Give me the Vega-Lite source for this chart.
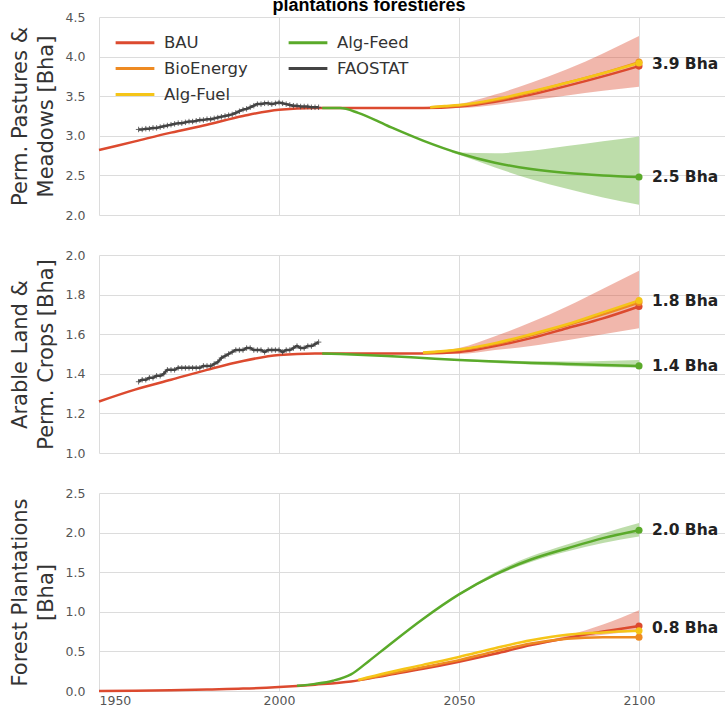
{
  "$schema": "https://vega.github.io/schema/vega-lite/v6.json",
  "padding": {"left": 9, "top": -3, "right": 0, "bottom": 0},
  "background": "white",
  "title": {"text": "plantations forestières", "font": "Liberation Sans", "fontSize": 18, "fontWeight": "bold", "color": "#000", "anchor": "middle", "offset": -4},
  "datasets": {
    "lines": [
      {"panel": 1, "scenario": "BAU", "year": 1950, "value": 2.82},
      {"panel": 1, "scenario": "BAU", "year": 1960, "value": 2.93},
      {"panel": 1, "scenario": "BAU", "year": 1970, "value": 3.04},
      {"panel": 1, "scenario": "BAU", "year": 1980, "value": 3.14},
      {"panel": 1, "scenario": "BAU", "year": 1990, "value": 3.25},
      {"panel": 1, "scenario": "BAU", "year": 2000, "value": 3.33},
      {"panel": 1, "scenario": "BAU", "year": 2010, "value": 3.35},
      {"panel": 1, "scenario": "BAU", "year": 2020, "value": 3.35},
      {"panel": 1, "scenario": "BAU", "year": 2030, "value": 3.35},
      {"panel": 1, "scenario": "BAU", "year": 2040, "value": 3.35},
      {"panel": 1, "scenario": "BAU", "year": 2050, "value": 3.37},
      {"panel": 1, "scenario": "BAU", "year": 2060, "value": 3.43},
      {"panel": 1, "scenario": "BAU", "year": 2070, "value": 3.52},
      {"panel": 1, "scenario": "BAU", "year": 2080, "value": 3.63},
      {"panel": 1, "scenario": "BAU", "year": 2090, "value": 3.75},
      {"panel": 1, "scenario": "BAU", "year": 2100, "value": 3.88},
      {"panel": 1, "scenario": "BioEnergy", "year": 2042, "value": 3.36},
      {"panel": 1, "scenario": "BioEnergy", "year": 2046, "value": 3.37},
      {"panel": 1, "scenario": "BioEnergy", "year": 2050, "value": 3.38},
      {"panel": 1, "scenario": "BioEnergy", "year": 2060, "value": 3.45},
      {"panel": 1, "scenario": "BioEnergy", "year": 2070, "value": 3.55},
      {"panel": 1, "scenario": "BioEnergy", "year": 2080, "value": 3.67},
      {"panel": 1, "scenario": "BioEnergy", "year": 2090, "value": 3.79},
      {"panel": 1, "scenario": "BioEnergy", "year": 2100, "value": 3.93},
      {"panel": 1, "scenario": "Alg-Fuel", "year": 2042, "value": 3.36},
      {"panel": 1, "scenario": "Alg-Fuel", "year": 2046, "value": 3.375},
      {"panel": 1, "scenario": "Alg-Fuel", "year": 2050, "value": 3.39},
      {"panel": 1, "scenario": "Alg-Fuel", "year": 2060, "value": 3.46},
      {"panel": 1, "scenario": "Alg-Fuel", "year": 2070, "value": 3.56},
      {"panel": 1, "scenario": "Alg-Fuel", "year": 2080, "value": 3.67},
      {"panel": 1, "scenario": "Alg-Fuel", "year": 2090, "value": 3.79},
      {"panel": 1, "scenario": "Alg-Fuel", "year": 2100, "value": 3.92},
      {"panel": 1, "scenario": "Alg-Feed", "year": 2012, "value": 3.35},
      {"panel": 1, "scenario": "Alg-Feed", "year": 2017, "value": 3.35},
      {"panel": 1, "scenario": "Alg-Feed", "year": 2022, "value": 3.29},
      {"panel": 1, "scenario": "Alg-Feed", "year": 2030, "value": 3.13},
      {"panel": 1, "scenario": "Alg-Feed", "year": 2040, "value": 2.94},
      {"panel": 1, "scenario": "Alg-Feed", "year": 2050, "value": 2.78},
      {"panel": 1, "scenario": "Alg-Feed", "year": 2060, "value": 2.66},
      {"panel": 1, "scenario": "Alg-Feed", "year": 2070, "value": 2.58},
      {"panel": 1, "scenario": "Alg-Feed", "year": 2080, "value": 2.53},
      {"panel": 1, "scenario": "Alg-Feed", "year": 2090, "value": 2.50},
      {"panel": 1, "scenario": "Alg-Feed", "year": 2100, "value": 2.48},
      {"panel": 1, "scenario": "FAOSTAT", "year": 1961, "value": 3.08},
      {"panel": 1, "scenario": "FAOSTAT", "year": 1962, "value": 3.08},
      {"panel": 1, "scenario": "FAOSTAT", "year": 1963, "value": 3.09},
      {"panel": 1, "scenario": "FAOSTAT", "year": 1964, "value": 3.09},
      {"panel": 1, "scenario": "FAOSTAT", "year": 1965, "value": 3.10},
      {"panel": 1, "scenario": "FAOSTAT", "year": 1966, "value": 3.10},
      {"panel": 1, "scenario": "FAOSTAT", "year": 1967, "value": 3.11},
      {"panel": 1, "scenario": "FAOSTAT", "year": 1968, "value": 3.12},
      {"panel": 1, "scenario": "FAOSTAT", "year": 1969, "value": 3.13},
      {"panel": 1, "scenario": "FAOSTAT", "year": 1970, "value": 3.14},
      {"panel": 1, "scenario": "FAOSTAT", "year": 1971, "value": 3.15},
      {"panel": 1, "scenario": "FAOSTAT", "year": 1972, "value": 3.16},
      {"panel": 1, "scenario": "FAOSTAT", "year": 1973, "value": 3.16},
      {"panel": 1, "scenario": "FAOSTAT", "year": 1974, "value": 3.17},
      {"panel": 1, "scenario": "FAOSTAT", "year": 1975, "value": 3.18},
      {"panel": 1, "scenario": "FAOSTAT", "year": 1976, "value": 3.18},
      {"panel": 1, "scenario": "FAOSTAT", "year": 1977, "value": 3.19},
      {"panel": 1, "scenario": "FAOSTAT", "year": 1978, "value": 3.20},
      {"panel": 1, "scenario": "FAOSTAT", "year": 1979, "value": 3.20},
      {"panel": 1, "scenario": "FAOSTAT", "year": 1980, "value": 3.21},
      {"panel": 1, "scenario": "FAOSTAT", "year": 1981, "value": 3.21},
      {"panel": 1, "scenario": "FAOSTAT", "year": 1982, "value": 3.22},
      {"panel": 1, "scenario": "FAOSTAT", "year": 1983, "value": 3.23},
      {"panel": 1, "scenario": "FAOSTAT", "year": 1984, "value": 3.24},
      {"panel": 1, "scenario": "FAOSTAT", "year": 1985, "value": 3.25},
      {"panel": 1, "scenario": "FAOSTAT", "year": 1986, "value": 3.26},
      {"panel": 1, "scenario": "FAOSTAT", "year": 1987, "value": 3.27},
      {"panel": 1, "scenario": "FAOSTAT", "year": 1988, "value": 3.29},
      {"panel": 1, "scenario": "FAOSTAT", "year": 1989, "value": 3.31},
      {"panel": 1, "scenario": "FAOSTAT", "year": 1990, "value": 3.33},
      {"panel": 1, "scenario": "FAOSTAT", "year": 1991, "value": 3.34},
      {"panel": 1, "scenario": "FAOSTAT", "year": 1992, "value": 3.36},
      {"panel": 1, "scenario": "FAOSTAT", "year": 1993, "value": 3.38},
      {"panel": 1, "scenario": "FAOSTAT", "year": 1994, "value": 3.40},
      {"panel": 1, "scenario": "FAOSTAT", "year": 1995, "value": 3.40},
      {"panel": 1, "scenario": "FAOSTAT", "year": 1996, "value": 3.41},
      {"panel": 1, "scenario": "FAOSTAT", "year": 1997, "value": 3.41},
      {"panel": 1, "scenario": "FAOSTAT", "year": 1998, "value": 3.40},
      {"panel": 1, "scenario": "FAOSTAT", "year": 1999, "value": 3.41},
      {"panel": 1, "scenario": "FAOSTAT", "year": 2000, "value": 3.42},
      {"panel": 1, "scenario": "FAOSTAT", "year": 2001, "value": 3.41},
      {"panel": 1, "scenario": "FAOSTAT", "year": 2002, "value": 3.40},
      {"panel": 1, "scenario": "FAOSTAT", "year": 2003, "value": 3.39},
      {"panel": 1, "scenario": "FAOSTAT", "year": 2004, "value": 3.38},
      {"panel": 1, "scenario": "FAOSTAT", "year": 2005, "value": 3.38},
      {"panel": 1, "scenario": "FAOSTAT", "year": 2006, "value": 3.37},
      {"panel": 1, "scenario": "FAOSTAT", "year": 2007, "value": 3.37},
      {"panel": 1, "scenario": "FAOSTAT", "year": 2008, "value": 3.37},
      {"panel": 1, "scenario": "FAOSTAT", "year": 2009, "value": 3.36},
      {"panel": 1, "scenario": "FAOSTAT", "year": 2010, "value": 3.36},
      {"panel": 1, "scenario": "FAOSTAT", "year": 2011, "value": 3.36},

      {"panel": 2, "scenario": "BAU", "year": 1950, "value": 1.26},
      {"panel": 2, "scenario": "BAU", "year": 1960, "value": 1.32},
      {"panel": 2, "scenario": "BAU", "year": 1970, "value": 1.37},
      {"panel": 2, "scenario": "BAU", "year": 1980, "value": 1.42},
      {"panel": 2, "scenario": "BAU", "year": 1990, "value": 1.465},
      {"panel": 2, "scenario": "BAU", "year": 2000, "value": 1.495},
      {"panel": 2, "scenario": "BAU", "year": 2010, "value": 1.503},
      {"panel": 2, "scenario": "BAU", "year": 2020, "value": 1.503},
      {"panel": 2, "scenario": "BAU", "year": 2030, "value": 1.502},
      {"panel": 2, "scenario": "BAU", "year": 2040, "value": 1.503},
      {"panel": 2, "scenario": "BAU", "year": 2050, "value": 1.51},
      {"panel": 2, "scenario": "BAU", "year": 2060, "value": 1.54},
      {"panel": 2, "scenario": "BAU", "year": 2070, "value": 1.58},
      {"panel": 2, "scenario": "BAU", "year": 2080, "value": 1.63},
      {"panel": 2, "scenario": "BAU", "year": 2090, "value": 1.68},
      {"panel": 2, "scenario": "BAU", "year": 2100, "value": 1.74},
      {"panel": 2, "scenario": "BioEnergy", "year": 2040, "value": 1.505},
      {"panel": 2, "scenario": "BioEnergy", "year": 2050, "value": 1.52},
      {"panel": 2, "scenario": "BioEnergy", "year": 2060, "value": 1.55},
      {"panel": 2, "scenario": "BioEnergy", "year": 2070, "value": 1.595},
      {"panel": 2, "scenario": "BioEnergy", "year": 2080, "value": 1.645},
      {"panel": 2, "scenario": "BioEnergy", "year": 2090, "value": 1.70},
      {"panel": 2, "scenario": "BioEnergy", "year": 2100, "value": 1.76},
      {"panel": 2, "scenario": "Alg-Fuel", "year": 2040, "value": 1.507},
      {"panel": 2, "scenario": "Alg-Fuel", "year": 2050, "value": 1.523},
      {"panel": 2, "scenario": "Alg-Fuel", "year": 2060, "value": 1.555},
      {"panel": 2, "scenario": "Alg-Fuel", "year": 2070, "value": 1.60},
      {"panel": 2, "scenario": "Alg-Fuel", "year": 2080, "value": 1.65},
      {"panel": 2, "scenario": "Alg-Fuel", "year": 2090, "value": 1.71},
      {"panel": 2, "scenario": "Alg-Fuel", "year": 2100, "value": 1.77},
      {"panel": 2, "scenario": "Alg-Feed", "year": 2012, "value": 1.503},
      {"panel": 2, "scenario": "Alg-Feed", "year": 2017, "value": 1.50},
      {"panel": 2, "scenario": "Alg-Feed", "year": 2030, "value": 1.49},
      {"panel": 2, "scenario": "Alg-Feed", "year": 2040, "value": 1.48},
      {"panel": 2, "scenario": "Alg-Feed", "year": 2050, "value": 1.47},
      {"panel": 2, "scenario": "Alg-Feed", "year": 2060, "value": 1.462},
      {"panel": 2, "scenario": "Alg-Feed", "year": 2070, "value": 1.455},
      {"panel": 2, "scenario": "Alg-Feed", "year": 2080, "value": 1.45},
      {"panel": 2, "scenario": "Alg-Feed", "year": 2090, "value": 1.445},
      {"panel": 2, "scenario": "Alg-Feed", "year": 2100, "value": 1.44},
      {"panel": 2, "scenario": "FAOSTAT", "year": 1961, "value": 1.36},
      {"panel": 2, "scenario": "FAOSTAT", "year": 1962, "value": 1.37},
      {"panel": 2, "scenario": "FAOSTAT", "year": 1963, "value": 1.37},
      {"panel": 2, "scenario": "FAOSTAT", "year": 1964, "value": 1.38},
      {"panel": 2, "scenario": "FAOSTAT", "year": 1965, "value": 1.38},
      {"panel": 2, "scenario": "FAOSTAT", "year": 1966, "value": 1.39},
      {"panel": 2, "scenario": "FAOSTAT", "year": 1967, "value": 1.39},
      {"panel": 2, "scenario": "FAOSTAT", "year": 1968, "value": 1.40},
      {"panel": 2, "scenario": "FAOSTAT", "year": 1969, "value": 1.42},
      {"panel": 2, "scenario": "FAOSTAT", "year": 1970, "value": 1.42},
      {"panel": 2, "scenario": "FAOSTAT", "year": 1971, "value": 1.42},
      {"panel": 2, "scenario": "FAOSTAT", "year": 1972, "value": 1.43},
      {"panel": 2, "scenario": "FAOSTAT", "year": 1973, "value": 1.43},
      {"panel": 2, "scenario": "FAOSTAT", "year": 1974, "value": 1.43},
      {"panel": 2, "scenario": "FAOSTAT", "year": 1975, "value": 1.43},
      {"panel": 2, "scenario": "FAOSTAT", "year": 1976, "value": 1.43},
      {"panel": 2, "scenario": "FAOSTAT", "year": 1977, "value": 1.43},
      {"panel": 2, "scenario": "FAOSTAT", "year": 1978, "value": 1.43},
      {"panel": 2, "scenario": "FAOSTAT", "year": 1979, "value": 1.44},
      {"panel": 2, "scenario": "FAOSTAT", "year": 1980, "value": 1.44},
      {"panel": 2, "scenario": "FAOSTAT", "year": 1981, "value": 1.44},
      {"panel": 2, "scenario": "FAOSTAT", "year": 1982, "value": 1.45},
      {"panel": 2, "scenario": "FAOSTAT", "year": 1983, "value": 1.46},
      {"panel": 2, "scenario": "FAOSTAT", "year": 1984, "value": 1.48},
      {"panel": 2, "scenario": "FAOSTAT", "year": 1985, "value": 1.49},
      {"panel": 2, "scenario": "FAOSTAT", "year": 1986, "value": 1.50},
      {"panel": 2, "scenario": "FAOSTAT", "year": 1987, "value": 1.51},
      {"panel": 2, "scenario": "FAOSTAT", "year": 1988, "value": 1.52},
      {"panel": 2, "scenario": "FAOSTAT", "year": 1989, "value": 1.52},
      {"panel": 2, "scenario": "FAOSTAT", "year": 1990, "value": 1.52},
      {"panel": 2, "scenario": "FAOSTAT", "year": 1991, "value": 1.53},
      {"panel": 2, "scenario": "FAOSTAT", "year": 1992, "value": 1.53},
      {"panel": 2, "scenario": "FAOSTAT", "year": 1993, "value": 1.52},
      {"panel": 2, "scenario": "FAOSTAT", "year": 1994, "value": 1.52},
      {"panel": 2, "scenario": "FAOSTAT", "year": 1995, "value": 1.52},
      {"panel": 2, "scenario": "FAOSTAT", "year": 1996, "value": 1.51},
      {"panel": 2, "scenario": "FAOSTAT", "year": 1997, "value": 1.52},
      {"panel": 2, "scenario": "FAOSTAT", "year": 1998, "value": 1.52},
      {"panel": 2, "scenario": "FAOSTAT", "year": 1999, "value": 1.52},
      {"panel": 2, "scenario": "FAOSTAT", "year": 2000, "value": 1.52},
      {"panel": 2, "scenario": "FAOSTAT", "year": 2001, "value": 1.51},
      {"panel": 2, "scenario": "FAOSTAT", "year": 2002, "value": 1.52},
      {"panel": 2, "scenario": "FAOSTAT", "year": 2003, "value": 1.52},
      {"panel": 2, "scenario": "FAOSTAT", "year": 2004, "value": 1.53},
      {"panel": 2, "scenario": "FAOSTAT", "year": 2005, "value": 1.54},
      {"panel": 2, "scenario": "FAOSTAT", "year": 2006, "value": 1.53},
      {"panel": 2, "scenario": "FAOSTAT", "year": 2007, "value": 1.53},
      {"panel": 2, "scenario": "FAOSTAT", "year": 2008, "value": 1.54},
      {"panel": 2, "scenario": "FAOSTAT", "year": 2009, "value": 1.54},
      {"panel": 2, "scenario": "FAOSTAT", "year": 2010, "value": 1.55},
      {"panel": 2, "scenario": "FAOSTAT", "year": 2011, "value": 1.56},

      {"panel": 3, "scenario": "BAU", "year": 1950, "value": 0.0},
      {"panel": 3, "scenario": "BAU", "year": 1960, "value": 0.004},
      {"panel": 3, "scenario": "BAU", "year": 1970, "value": 0.01},
      {"panel": 3, "scenario": "BAU", "year": 1980, "value": 0.02},
      {"panel": 3, "scenario": "BAU", "year": 1990, "value": 0.03},
      {"panel": 3, "scenario": "BAU", "year": 2000, "value": 0.05},
      {"panel": 3, "scenario": "BAU", "year": 2010, "value": 0.08},
      {"panel": 3, "scenario": "BAU", "year": 2020, "value": 0.12},
      {"panel": 3, "scenario": "BAU", "year": 2030, "value": 0.20},
      {"panel": 3, "scenario": "BAU", "year": 2040, "value": 0.28},
      {"panel": 3, "scenario": "BAU", "year": 2050, "value": 0.37},
      {"panel": 3, "scenario": "BAU", "year": 2060, "value": 0.47},
      {"panel": 3, "scenario": "BAU", "year": 2070, "value": 0.58},
      {"panel": 3, "scenario": "BAU", "year": 2080, "value": 0.67},
      {"panel": 3, "scenario": "BAU", "year": 2090, "value": 0.75},
      {"panel": 3, "scenario": "BAU", "year": 2100, "value": 0.82},
      {"panel": 3, "scenario": "BioEnergy", "year": 2022, "value": 0.135},
      {"panel": 3, "scenario": "BioEnergy", "year": 2030, "value": 0.21},
      {"panel": 3, "scenario": "BioEnergy", "year": 2040, "value": 0.30},
      {"panel": 3, "scenario": "BioEnergy", "year": 2050, "value": 0.39},
      {"panel": 3, "scenario": "BioEnergy", "year": 2060, "value": 0.50},
      {"panel": 3, "scenario": "BioEnergy", "year": 2070, "value": 0.60},
      {"panel": 3, "scenario": "BioEnergy", "year": 2080, "value": 0.66},
      {"panel": 3, "scenario": "BioEnergy", "year": 2090, "value": 0.68},
      {"panel": 3, "scenario": "BioEnergy", "year": 2100, "value": 0.68},
      {"panel": 3, "scenario": "Alg-Fuel", "year": 2022, "value": 0.14},
      {"panel": 3, "scenario": "Alg-Fuel", "year": 2030, "value": 0.23},
      {"panel": 3, "scenario": "Alg-Fuel", "year": 2040, "value": 0.33},
      {"panel": 3, "scenario": "Alg-Fuel", "year": 2050, "value": 0.43},
      {"panel": 3, "scenario": "Alg-Fuel", "year": 2060, "value": 0.54},
      {"panel": 3, "scenario": "Alg-Fuel", "year": 2070, "value": 0.64},
      {"panel": 3, "scenario": "Alg-Fuel", "year": 2080, "value": 0.71},
      {"panel": 3, "scenario": "Alg-Fuel", "year": 2090, "value": 0.74},
      {"panel": 3, "scenario": "Alg-Fuel", "year": 2100, "value": 0.76},
      {"panel": 3, "scenario": "Alg-Feed", "year": 2005, "value": 0.065},
      {"panel": 3, "scenario": "Alg-Feed", "year": 2010, "value": 0.09},
      {"panel": 3, "scenario": "Alg-Feed", "year": 2015, "value": 0.13},
      {"panel": 3, "scenario": "Alg-Feed", "year": 2020, "value": 0.21},
      {"panel": 3, "scenario": "Alg-Feed", "year": 2025, "value": 0.38},
      {"panel": 3, "scenario": "Alg-Feed", "year": 2030, "value": 0.56},
      {"panel": 3, "scenario": "Alg-Feed", "year": 2040, "value": 0.91},
      {"panel": 3, "scenario": "Alg-Feed", "year": 2050, "value": 1.22},
      {"panel": 3, "scenario": "Alg-Feed", "year": 2060, "value": 1.47},
      {"panel": 3, "scenario": "Alg-Feed", "year": 2070, "value": 1.66},
      {"panel": 3, "scenario": "Alg-Feed", "year": 2080, "value": 1.80},
      {"panel": 3, "scenario": "Alg-Feed", "year": 2090, "value": 1.93},
      {"panel": 3, "scenario": "Alg-Feed", "year": 2100, "value": 2.03}
    ],
    "bands": [
      {"panel": 1, "scenario": "BAU", "year": 2040, "low": 3.34, "high": 3.36},
      {"panel": 1, "scenario": "BAU", "year": 2050, "low": 3.35, "high": 3.40},
      {"panel": 1, "scenario": "BAU", "year": 2060, "low": 3.39, "high": 3.52},
      {"panel": 1, "scenario": "BAU", "year": 2070, "low": 3.45, "high": 3.67},
      {"panel": 1, "scenario": "BAU", "year": 2080, "low": 3.51, "high": 3.84},
      {"panel": 1, "scenario": "BAU", "year": 2090, "low": 3.57, "high": 4.04},
      {"panel": 1, "scenario": "BAU", "year": 2100, "low": 3.62, "high": 4.26},
      {"panel": 1, "scenario": "Alg-Feed", "year": 2048, "low": 2.79, "high": 2.80},
      {"panel": 1, "scenario": "Alg-Feed", "year": 2050, "low": 2.76, "high": 2.79},
      {"panel": 1, "scenario": "Alg-Feed", "year": 2060, "low": 2.60, "high": 2.78},
      {"panel": 1, "scenario": "Alg-Feed", "year": 2070, "low": 2.45, "high": 2.81},
      {"panel": 1, "scenario": "Alg-Feed", "year": 2080, "low": 2.33, "high": 2.87},
      {"panel": 1, "scenario": "Alg-Feed", "year": 2090, "low": 2.22, "high": 2.93},
      {"panel": 1, "scenario": "Alg-Feed", "year": 2100, "low": 2.13, "high": 2.99},
      {"panel": 2, "scenario": "BAU", "year": 2040, "low": 1.50, "high": 1.51},
      {"panel": 2, "scenario": "BAU", "year": 2050, "low": 1.50, "high": 1.53},
      {"panel": 2, "scenario": "BAU", "year": 2060, "low": 1.52, "high": 1.59},
      {"panel": 2, "scenario": "BAU", "year": 2070, "low": 1.54, "high": 1.66},
      {"panel": 2, "scenario": "BAU", "year": 2080, "low": 1.57, "high": 1.74},
      {"panel": 2, "scenario": "BAU", "year": 2090, "low": 1.60, "high": 1.83},
      {"panel": 2, "scenario": "BAU", "year": 2100, "low": 1.63, "high": 1.92},
      {"panel": 2, "scenario": "Alg-Feed", "year": 2040, "low": 1.478, "high": 1.482},
      {"panel": 2, "scenario": "Alg-Feed", "year": 2060, "low": 1.455, "high": 1.467},
      {"panel": 2, "scenario": "Alg-Feed", "year": 2080, "low": 1.44, "high": 1.462},
      {"panel": 2, "scenario": "Alg-Feed", "year": 2100, "low": 1.43, "high": 1.47},
      {"panel": 3, "scenario": "BAU", "year": 2070, "low": 0.57, "high": 0.59},
      {"panel": 3, "scenario": "BAU", "year": 2080, "low": 0.65, "high": 0.70},
      {"panel": 3, "scenario": "BAU", "year": 2090, "low": 0.71, "high": 0.84},
      {"panel": 3, "scenario": "BAU", "year": 2100, "low": 0.76, "high": 1.02},
      {"panel": 3, "scenario": "Alg-Feed", "year": 2050, "low": 1.21, "high": 1.23},
      {"panel": 3, "scenario": "Alg-Feed", "year": 2060, "low": 1.45, "high": 1.50},
      {"panel": 3, "scenario": "Alg-Feed", "year": 2070, "low": 1.63, "high": 1.70},
      {"panel": 3, "scenario": "Alg-Feed", "year": 2080, "low": 1.76, "high": 1.85},
      {"panel": 3, "scenario": "Alg-Feed", "year": 2090, "low": 1.87, "high": 1.99},
      {"panel": 3, "scenario": "Alg-Feed", "year": 2100, "low": 1.95, "high": 2.12}
    ],
    "labels": [
      {"panel": 1, "year": 2100, "value": 3.91, "label": "3.9 Bha"},
      {"panel": 1, "year": 2100, "value": 2.48, "label": "2.5 Bha"},
      {"panel": 2, "year": 2100, "value": 1.77, "label": "1.8 Bha"},
      {"panel": 2, "year": 2100, "value": 1.44, "label": "1.4 Bha"},
      {"panel": 3, "year": 2100, "value": 2.03, "label": "2.0 Bha"},
      {"panel": 3, "year": 2100, "value": 0.80, "label": "0.8 Bha"}
    ]
  },
  "vconcat": [
    {
      "width": 630, "height": 198,
      "encoding": {
        "color": {"field": "scenario", "type": "nominal", "scale": {"domain": ["BAU", "BioEnergy", "Alg-Fuel", "Alg-Feed", "FAOSTAT"], "range": ["#dc4a2f", "#ee8a22", "#f5c518", "#5aaa2a", "#444444"]},
          "legend": {"orient": "none", "legendX": 19, "legendY": 8.5, "columns": 2, "padding": 0, "title": null, "symbolType": "M-1.25,0L1.25,0", "symbolStrokeWidth": 3, "symbolSize": 961, "symbolFillColor": "transparent", "labelFont": "DejaVu Sans", "labelFontSize": 16.5, "labelColor": "#333", "rowPadding": 0, "columnPadding": 34, "labelOffset": 12, "symbolOpacity": 1}}
      },
      "layer": [
        {"data": {"name": "bands"}, "transform": [{"filter": "datum.panel == 1"}],
         "mark": {"type": "area", "opacity": 0.4, "interpolate": "monotone"},
         "encoding": {
           "x": {"field": "year", "type": "quantitative", "scale": {"domain": [1950, 2125], "nice": false, "zero": false}, "axis": {"values": [1950, 2000, 2050, 2100], "labels": false, "ticks": false, "domain": false, "title": null}},
           "y": {"field": "low", "type": "quantitative", "scale": {"domain": [2, 4.5], "nice": false, "zero": false}, "axis": {"values": [2.0, 2.5, 3.0, 3.5, 4.0, 4.5], "tickCount": 20, "format": ".1f", "title": ["Perm. Pastures &", "Meadows [Bha]"]}},
           "y2": {"field": "high"}
         }},
        {"data": {"name": "lines"}, "transform": [{"filter": "datum.panel == 1"}],
         "mark": {"type": "line", "strokeWidth": 2.5, "interpolate": "monotone"},
         "encoding": {
           "x": {"field": "year", "type": "quantitative"},
           "y": {"field": "value", "type": "quantitative"}
         }},
        {"data": {"name": "lines"}, "transform": [{"filter": "datum.panel == 1 && datum.scenario == 'FAOSTAT'"}],
         "mark": {"type": "point", "shape": "M-1,0L1,0M0,-1L0,1", "size": 30, "filled": false, "strokeWidth": 1, "opacity": 0.8},
         "encoding": {
           "x": {"field": "year", "type": "quantitative"},
           "y": {"field": "value", "type": "quantitative"}
         }},
        {"data": {"name": "lines"}, "transform": [{"filter": "datum.panel == 1 && datum.year == 2100"}],
         "mark": {"type": "circle", "size": 50, "opacity": 1},
         "encoding": {
           "x": {"field": "year", "type": "quantitative"},
           "y": {"field": "value", "type": "quantitative"}
         }},
        {"data": {"name": "labels"}, "transform": [{"filter": "datum.panel == 1"}],
         "mark": {"type": "text", "align": "left", "dx": 13, "font": "DejaVu Sans", "fontWeight": "bold", "fontSize": 15.5},
         "encoding": {
           "x": {"field": "year", "type": "quantitative"},
           "y": {"field": "value", "type": "quantitative"},
           "text": {"field": "label"},
           "color": {"value": "#222"}
         }}
      ]
    },
    {
      "width": 630, "height": 198,
      "encoding": {
        "color": {"field": "scenario", "type": "nominal", "scale": {"domain": ["BAU", "BioEnergy", "Alg-Fuel", "Alg-Feed", "FAOSTAT"], "range": ["#dc4a2f", "#ee8a22", "#f5c518", "#5aaa2a", "#444444"]}, "legend": null}
      },
      "layer": [
        {"data": {"name": "bands"}, "transform": [{"filter": "datum.panel == 2"}],
         "mark": {"type": "area", "opacity": 0.4, "interpolate": "monotone"},
         "encoding": {
           "x": {"field": "year", "type": "quantitative", "scale": {"domain": [1950, 2125], "nice": false, "zero": false}, "axis": {"values": [1950, 2000, 2050, 2100], "labels": false, "ticks": false, "domain": false, "title": null}},
           "y": {"field": "low", "type": "quantitative", "scale": {"domain": [1, 2], "nice": false, "zero": false}, "axis": {"values": [1.0, 1.2, 1.4, 1.6, 1.8, 2.0], "tickCount": 20, "format": ".1f", "title": ["Arable Land &", "Perm. Crops [Bha]"]}},
           "y2": {"field": "high"}
         }},
        {"data": {"name": "lines"}, "transform": [{"filter": "datum.panel == 2"}],
         "mark": {"type": "line", "strokeWidth": 2.5, "interpolate": "monotone"},
         "encoding": {
           "x": {"field": "year", "type": "quantitative"},
           "y": {"field": "value", "type": "quantitative"}
         }},
        {"data": {"name": "lines"}, "transform": [{"filter": "datum.panel == 2 && datum.scenario == 'FAOSTAT'"}],
         "mark": {"type": "point", "shape": "M-1,0L1,0M0,-1L0,1", "size": 30, "filled": false, "strokeWidth": 1, "opacity": 0.8},
         "encoding": {
           "x": {"field": "year", "type": "quantitative"},
           "y": {"field": "value", "type": "quantitative"}
         }},
        {"data": {"name": "lines"}, "transform": [{"filter": "datum.panel == 2 && datum.year == 2100"}],
         "mark": {"type": "circle", "size": 50, "opacity": 1},
         "encoding": {
           "x": {"field": "year", "type": "quantitative"},
           "y": {"field": "value", "type": "quantitative"}
         }},
        {"data": {"name": "labels"}, "transform": [{"filter": "datum.panel == 2"}],
         "mark": {"type": "text", "align": "left", "dx": 13, "font": "DejaVu Sans", "fontWeight": "bold", "fontSize": 15.5},
         "encoding": {
           "x": {"field": "year", "type": "quantitative"},
           "y": {"field": "value", "type": "quantitative"},
           "text": {"field": "label"},
           "color": {"value": "#222"}
         }}
      ]
    },
    {
      "width": 630, "height": 198,
      "encoding": {
        "color": {"field": "scenario", "type": "nominal", "scale": {"domain": ["BAU", "BioEnergy", "Alg-Fuel", "Alg-Feed", "FAOSTAT"], "range": ["#dc4a2f", "#ee8a22", "#f5c518", "#5aaa2a", "#444444"]}, "legend": null}
      },
      "layer": [
        {"data": {"name": "bands"}, "transform": [{"filter": "datum.panel == 3"}],
         "mark": {"type": "area", "opacity": 0.4, "interpolate": "monotone"},
         "encoding": {
           "x": {"field": "year", "type": "quantitative", "scale": {"domain": [1950, 2125], "nice": false, "zero": false}, "axis": {"values": [1950, 2000, 2050, 2100], "format": "d", "ticks": false, "domain": false, "title": null, "labelPadding": 3, "labelFontSize": 12.5}},
           "y": {"field": "low", "type": "quantitative", "scale": {"domain": [0, 2.5], "nice": false, "zero": false}, "axis": {"values": [0.0, 0.5, 1.0, 1.5, 2.0, 2.5], "tickCount": 20, "format": ".1f", "title": ["Forest Plantations", "[Bha]"]}},
           "y2": {"field": "high"}
         }},
        {"data": {"name": "lines"}, "transform": [{"filter": "datum.panel == 3"}],
         "mark": {"type": "line", "strokeWidth": 2.5, "interpolate": "monotone"},
         "encoding": {
           "x": {"field": "year", "type": "quantitative"},
           "y": {"field": "value", "type": "quantitative"}
         }},
        {"data": {"name": "lines"}, "transform": [{"filter": "datum.panel == 3 && datum.year == 2100"}],
         "mark": {"type": "circle", "size": 50, "opacity": 1},
         "encoding": {
           "x": {"field": "year", "type": "quantitative"},
           "y": {"field": "value", "type": "quantitative"}
         }},
        {"data": {"name": "labels"}, "transform": [{"filter": "datum.panel == 3"}],
         "mark": {"type": "text", "align": "left", "dx": 13, "font": "DejaVu Sans", "fontWeight": "bold", "fontSize": 15.5},
         "encoding": {
           "x": {"field": "year", "type": "quantitative"},
           "y": {"field": "value", "type": "quantitative"},
           "text": {"field": "label"},
           "color": {"value": "#222"}
         }}
      ]
    }
  ],
  "spacing": 40,
  "bounds": "flush",
  "resolve": {"scale": {"color": "independent"}, "legend": {"color": "independent"}},
  "config": {
    "view": {"stroke": null},
    "axis": {"gridColor": "#dcdcdc", "gridWidth": 1, "labelFont": "DejaVu Sans", "labelFontSize": 12.5, "labelColor": "#555", "labelPadding": 14, "labelOverlap": false, "ticks": false, "domain": false, "titleFont": "DejaVu Sans", "titleFontSize": 21, "titleFontWeight": "normal", "titleColor": "#333", "titlePadding": 9, "titleLineHeight": 26}
  }
}
